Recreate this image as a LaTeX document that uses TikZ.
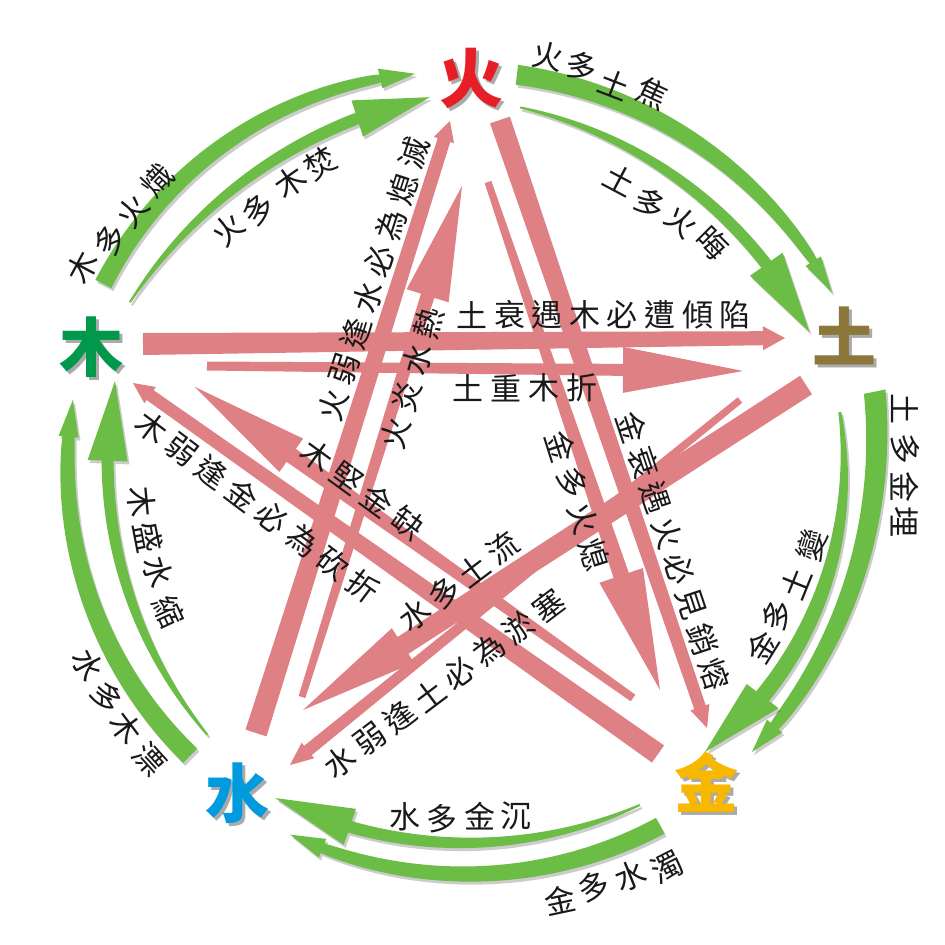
\documentclass[tikz,border=0pt]{standalone}
\usepackage{fontspec}
\newfontfamily\cjk{Noto Sans CJK TC}
\usetikzlibrary{calc}
\definecolor{pinkc}{RGB}{222,128,132}
\definecolor{greenc}{RGB}{108,189,69}
\definecolor{firec}{RGB}{230,30,37}
\definecolor{earthc}{RGB}{140,118,58}
\definecolor{metalc}{RGB}{248,184,0}
\definecolor{waterc}{RGB}{0,155,222}
\definecolor{woodc}{RGB}{0,152,74}
\definecolor{txtc}{RGB}{25,25,25}
\definecolor{shadowc}{RGB}{170,170,170}

\pgfmathdeclarefunction{gR}{1}{%
  \begingroup
  \pgfmathparse{((#1)-(\gA))/((\gB)-(\gA))}\let\gs\pgfmathresult
  \pgfmathparse{(\gRa)*(1-\gs)*(1-2*\gs)+4*(\gRm)*\gs*(1-\gs)+(\gRb)*\gs*(2*\gs-1)}%
  \pgfmathsmuggle\pgfmathresult
  \endgroup}
\pgfmathdeclarefunction{gW}{1}{%
  \begingroup
  \pgfmathparse{((#1)-(\gA))/((\gN)-(\gA))}\let\gs\pgfmathresult
  \pgfmathparse{(\gWn)+((\gWa)-(\gWn))*\gprofile}%
  \pgfmathsmuggle\pgfmathresult
  \endgroup}
\newcommand\gthick{\def\gprofile{sqrt(abs(1-\gs)+0.0001)}}
\newcommand\gthin{\def\gprofile{(1-\gs)*(1-\gs)}}

% tapered curved arrow: th0, th1, R0, Rmid, R1, halfwidth tail, halfwidth neck, head halfwidth, head length (deg)
\newcommand\garc[9]{%
  \def\gA{#1}\def\gB{#2}\def\gRa{#3}\def\gRm{#4}\def\gRb{#5}%
  \def\gWa{#6}\def\gWn{#7}%
  \pgfmathsetmacro\gN{(#2)-(#9)}%
  \pgfmathsetmacro\gRN{gR(\gN)}%
  \pgfmathsetmacro\gRT{gR(#2)}%
  \pgfmathsetmacro\gHo{\gRN+#8}%
  \pgfmathsetmacro\gHi{\gRN-#8}%
  \def\gpath{plot[variable=\t,domain=#1:\gN,samples=45] ({470+(gR(\t)+gW(\t))*cos(\t)},{474+(gR(\t)+gW(\t))*sin(\t)})
    -- ({470+\gHo*cos(\gN)},{474+\gHo*sin(\gN)})
    -- ({470+\gRT*cos(#2)},{474+\gRT*sin(#2)})
    -- ({470+\gHi*cos(\gN)},{474+\gHi*sin(\gN)})
    -- plot[variable=\t,domain=\gN:#1,samples=45] ({470+(gR(\t)-gW(\t))*cos(\t)},{474+(gR(\t)-gW(\t))*sin(\t)})
    -- cycle}%
  \fill[gshade,shift={(2,3)}] \gpath;
  \fill[gfill] \gpath;}

% tapered straight arrow: tail, tip, tail halfwidth, neck halfwidth, head halfwidth, head length
\newcommand\rarrow[6]{%
  \coordinate (rN) at ($(#2)!#6pt!(#1)$);
  \fill[redband] ($(#1)!#3pt!90:(#2)$) -- ($(rN)!#4pt!90:(#2)$) -- ($(rN)!#5pt!90:(#2)$)
    -- (#2) -- ($(rN)!#5pt!-90:(#2)$) -- ($(rN)!#4pt!-90:(#2)$) -- ($(#1)!#3pt!-90:(#2)$) -- cycle;}

\newcommand\lab[5]{\node[lab,rotate=#4] (#1) at (#2,#3) {#5};}
% element glyph with its own grey drop shadow, in one node
\newcommand\elemtext[2]{\makebox[0pt][l]{\hspace{3pt}\raisebox{-3pt}{\textcolor{shadowc}{#2}}}\textcolor{#1}{#2}}

\begin{document}
\begin{tikzpicture}[x=1pt,y=-1pt,
  redband/.style={fill=pinkc},
  gfill/.style={fill=greenc},
  gshade/.style={fill=black,opacity=.2},
  lab/.style={font=\cjk\fontsize{31}{31}\selectfont,text=txtc,inner sep=0pt},
  elem/.style={font=\cjk\bfseries\fontsize{64}{64}\selectfont,inner sep=0pt}]
\useasboundingbox (0,0) rectangle (945,945);
\fill[white] (0,0) rectangle (945,945);

% ---------- red (pink) arrows ----------
\coordinate (k1t) at (143,344); \coordinate (k1p) at (785,338);
\coordinate (k2t) at (207,366); \coordinate (k2p) at (743,371);
\coordinate (k3t) at (806,385); \coordinate (k3p) at (303,710);
\coordinate (k4t) at (740,400); \coordinate (k4p) at (290,765);
\coordinate (k5t) at (256,733); \coordinate (k5p) at (450,121);
\coordinate (k6t) at (302,697); \coordinate (k6p) at (462,186);
\coordinate (k7t) at (500,120); \coordinate (k7p) at (707,728);
\coordinate (k8t) at (488,182); \coordinate (k8p) at (660,690);
\coordinate (k9t) at (658,754); \coordinate (k9p) at (133,383);
\coordinate (k10t) at (633,698); \coordinate (k10p) at (195,387);
\rarrow{k1t}{k1p}{11}{7}{12}{22}
\rarrow{k2t}{k2p}{4.5}{6}{23}{120}
\rarrow{k3t}{k3p}{11}{10}{20.5}{119}
\rarrow{k4t}{k4p}{3.5}{6}{10}{23}
\rarrow{k5t}{k5p}{11}{6.5}{10.5}{20}
\rarrow{k6t}{k6p}{3.5}{7}{22}{115}
\rarrow{k7t}{k7p}{10.5}{6}{10}{22}
\rarrow{k8t}{k8p}{3.5}{8}{23}{121}
\rarrow{k9t}{k9p}{10.5}{6}{10}{21}
\rarrow{k10t}{k10p}{4}{8}{20.5}{118}

% ---------- green arrows ----------
\gthick\garc{-152.6}{-97.8}{413}{411}{404}{9}{4}{10}{5}
\gthin \garc{-153.2}{-96.1}{381}{370}{379}{1}{6}{19}{11.5}
\gthick\garc{-83.3}{-26.6}{402}{401}{405}{10}{4}{9}{5.2}
\gthin \garc{-82.2}{-22.7}{370}{361}{368}{1}{6}{20}{12.6}
\gthick\garc{-11.5}{44.6}{413}{398}{396}{11}{5}{10}{5}
\gthin \garc{-9.5}{49.8}{375}{371}{364}{1.5}{8}{20}{12.6}
\gthick\garc{61.6}{116.5}{400}{400}{403}{9}{5}{10}{5}
\gthin \garc{62.8}{121}{372}{369}{378}{1}{6}{19}{12.2}
\gthick\garc{134.8}{190.6}{397}{400}{404}{10}{6}{10}{5.3}
\gthin \garc{135.2}{194.7}{370}{361}{367}{1}{6}{20}{12.6}

% ---------- element labels ----------
\node[elem] (huo) at (471,80) {\elemtext{firec}{火}};
\node[elem] (tu) at (844,337) {\elemtext{earthc}{土}};
\node[elem] (jin) at (706,784) {\elemtext{metalc}{金}};
\node[elem] (shui) at (237,795) {\elemtext{waterc}{水}};
\node[elem] (mu) at (91,349) {\elemtext{woodc}{木}};

% ---------- green labels ----------
\lab{g1a}{82}{267}{62}{木}\lab{g1b}{110}{240}{57}{多}\lab{g1c}{133}{211}{52}{火}\lab{g1d}{157}{180}{47}{熾}
\lab{g2a}{228}{230}{42}{火}\lab{g2b}{258}{210}{39}{多}\lab{g2c}{290}{182}{35}{木}\lab{g2d}{320}{163}{32}{焚}
\lab{g3a}{548}{56}{-12}{火}\lab{g3b}{582}{66}{-16}{多}\lab{g3c}{614}{84}{-21}{土}\lab{g3d}{653}{93}{-25}{焦}
\lab{g4a}{620}{180}{-28}{土}\lab{g4b}{650}{203}{-34}{多}\lab{g4c}{682}{222}{-40}{火}\lab{g4d}{713}{243}{-45}{晦}
\lab{g5a}{905}{409}{-90}{土}\lab{g5b}{905}{449}{-90}{多}\lab{g5c}{905}{487}{-90}{金}\lab{g5d}{905}{522}{-90}{埋}
\lab{g6a}{762}{647}{58}{金}\lab{g6b}{777}{615}{63}{多}\lab{g6c}{796}{583}{68}{土}\lab{g6d}{812}{545}{73}{變}
\lab{g7a}{560}{900}{12}{金}\lab{g7b}{594}{887}{17}{多}\lab{g7c}{630}{876}{22}{水}\lab{g7d}{667}{867}{27}{濁}
\lab{g8a}{405}{817}{0}{水}\lab{g8b}{442}{819}{0}{多}\lab{g8c}{480}{816}{0}{金}\lab{g8d}{516}{816}{0}{沉}
\lab{g9a}{88}{665}{-63}{水}\lab{g9b}{107}{697}{-58}{多}\lab{g9c}{126}{728}{-53}{木}\lab{g9d}{149}{759}{-48}{漂}
\lab{g10a}{142}{502}{-85}{木}\lab{g10b}{148}{537}{-79}{盛}\lab{g10c}{158}{572}{-73}{水}\lab{g10d}{169}{612}{-65}{縮}

% ---------- red labels ----------
\foreach \c [count=\i from 0] in {土,衰,遇,木,必,遭,傾,陷}
  \node[lab] (ta\i) at ({472+\i*37.6},315) {\c};
\foreach \c [count=\i from 0] in {土,重,木,折}
  \node[lab] (tb\i) at ({468+\i*38},388) {\c};
\foreach \c [count=\i from 0] in {火,弱,逢,水,必,為,熄,滅}
  \node[lab,rotate=72] (tc\i) at ({333+\i*11.6},{405-\i*36}) {\c};
\foreach \c [count=\i from 0] in {火,炎,水,熱}
  \node[lab,rotate=74] (td\i) at ({396+\i*10.7},{433-\i*36.7}) {\c};
\foreach \c [count=\i from 0] in {木,堅,金,缺}
  \node[lab,rotate=-36] (te\i) at ({317+\i*30.3},{456+\i*22.3}) {\c};
\foreach \c [count=\i from 0] in {木,弱,逢,金,必,為,砍,折}
  \node[lab,rotate=-37] (tf\i) at ({152+\i*30.1},{427+\i*22.7}) {\c};
\foreach \c [count=\i from 0] in {水,多,土,流}
  \node[lab,rotate=37] (tg\i) at ({415+\i*29.3},{615-\i*22.3}) {\c};
\foreach \c [count=\i from 0] in {水,弱,逢,土,必,為,淤,塞}
  \node[lab,rotate=37] (th\i) at ({340+\i*29.8},{762-\i*22.4}) {\c};
\foreach \c [count=\i from 0] in {金,多,火,熄}
  \node[lab,rotate=-72.5] (ti\i) at ({561+\i*11.3},{447+\i*36}) {\c};
\foreach \c [count=\i from 0] in {金,衰,遇,火,必,見,銷,熔}
  \node[lab,rotate=-71.6] (tj\i) at ({632+\i*11.8},{427+\i*35.4}) {\c};
\end{tikzpicture}
\end{document}
